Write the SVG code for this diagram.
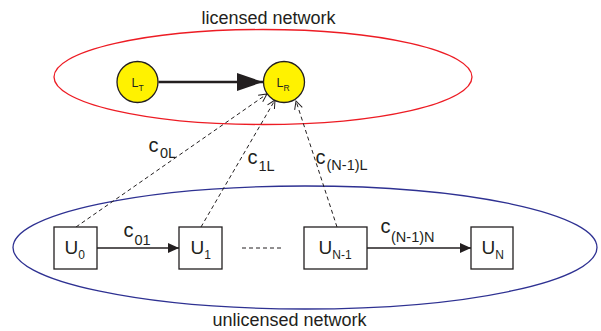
<svg xmlns="http://www.w3.org/2000/svg" width="601" height="331" viewBox="0 0 601 331">
<style>
text{font-family:"Liberation Sans",Arial,sans-serif;fill:#231f20}
.net{font-size:18px}
.u{font-size:19px}
.us{font-size:12px}
.c{font-size:20px}
.cs{font-size:14.5px}
.l{font-size:12.5px}
.ls{font-size:8.5px}
.box{fill:#fff;stroke:#231f20;stroke-width:1.3}
.node{fill:#fff200;stroke:#231f20;stroke-width:1.3}
.dash{fill:none;stroke:#231f20;stroke-width:1;stroke-dasharray:4,3}
.solid{fill:none;stroke:#231f20;stroke-width:1.3}
</style>
<defs>
<marker id="open" markerWidth="10" markerHeight="10" refX="9" refY="5" orient="auto" markerUnits="userSpaceOnUse">
<path d="M1,1 L9,5 L1,9" fill="none" stroke="#231f20" stroke-width="1" stroke-dasharray="none"/>
</marker>
<marker id="fill" markerWidth="12" markerHeight="10" refX="11" refY="5" orient="auto" markerUnits="userSpaceOnUse">
<path d="M0,0 L11,5 L0,10 Z" fill="#231f20"/>
</marker>
<marker id="big" markerWidth="27" markerHeight="18" refX="26" refY="9" orient="auto" markerUnits="userSpaceOnUse">
<path d="M0,0 L26,9 L0,18 Z" fill="#231f20"/>
</marker>
</defs>
<g id="licensed-network">
<ellipse cx="263" cy="77" rx="209" ry="47.5" fill="none" stroke="#ed1c24" stroke-width="1.3"/>
<text class="net" x="268.5" y="24" text-anchor="middle">licensed network</text>
</g>
<g id="unlicensed-network">
<ellipse cx="305" cy="247.5" rx="292" ry="61.5" fill="none" stroke="#2e3192" stroke-width="1.3"/>
<text class="net" x="289.5" y="326" text-anchor="middle">unlicensed network</text>
</g>
<g id="connectors">
<line x1="158.5" y1="82" x2="263" y2="82" stroke="#231f20" stroke-width="2.5" marker-end="url(#big)"/>
<line class="dash" x1="76" y1="227" x2="267" y2="94" marker-end="url(#open)"/>
<line class="dash" x1="201" y1="227" x2="275" y2="100" marker-end="url(#open)"/>
<line class="dash" x1="337" y1="227" x2="296" y2="101" marker-end="url(#open)"/>
<line class="solid" x1="97" y1="248" x2="179" y2="248" marker-end="url(#fill)"/>
<line class="solid" x1="367" y1="248" x2="471" y2="248" marker-end="url(#fill)"/>
<line class="dash" x1="242" y1="248" x2="284" y2="248"/>
<text class="c" x="123.5" y="237">c<tspan class="cs" dx="1" dy="8">01</tspan></text>
<text class="c" x="380.5" y="233">c<tspan class="cs" dx="0.5" dy="9">(N-1)N</tspan></text>
<text class="c" x="148.5" y="152">c<tspan class="cs" dx="1.5" dy="6">0L</tspan></text>
<text class="c" x="247.5" y="164">c<tspan class="cs" dx="1" dy="7">1L</tspan></text>
<text class="c" x="315.5" y="164">c<tspan class="cs" dx="1" dy="6">(N-1)L</tspan></text>
</g>
<g id="LT">
<circle class="node" cx="137.5" cy="82" r="20.5"/>
<text class="l" x="131.5" y="86.5">L<tspan class="ls" dy="4">T</tspan></text>
</g>
<g id="LR">
<circle class="node" cx="284" cy="82" r="20.5"/>
<text class="l" x="276.5" y="86.5">L<tspan class="ls" dy="4">R</tspan></text>
</g>
<g id="U0">
<rect class="box" x="54" y="227" width="43" height="42"/>
<text class="u" x="64.5" y="254">U<tspan class="us" dy="5">0</tspan></text>
</g>
<g id="U1">
<rect class="box" x="179" y="227" width="43" height="42"/>
<text class="u" x="190.5" y="254">U<tspan class="us" dy="5">1</tspan></text>
</g>
<g id="UN-1">
<rect class="box" x="304" y="227" width="63" height="42"/>
<text class="u" x="318.5" y="254">U<tspan class="us" dy="5">N-1</tspan></text>
</g>
<g id="UN">
<rect class="box" x="471" y="227" width="42" height="42"/>
<text class="u" x="481.5" y="254">U<tspan class="us" dy="5">N</tspan></text>
</g>
</svg>
